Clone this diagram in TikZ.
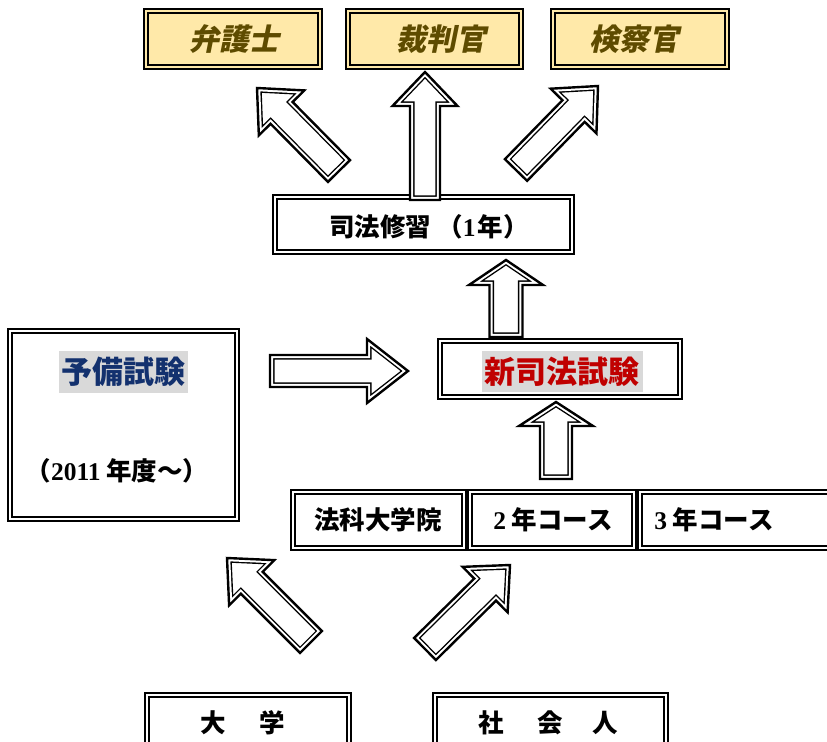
\documentclass[tikz,border=0pt]{standalone}
\usepackage{fontspec}
\setmainfont{Liberation Serif}
\newfontfamily\jp{Noto Sans CJK JP}
\newfontfamily\jpit[FakeSlant=0.2]{Noto Sans CJK JP}
\usetikzlibrary{calc}
\definecolor{goldfill}{HTML}{FFE9A9}
\definecolor{goldtext}{HTML}{5E4B00}
\definecolor{navytext}{HTML}{13316E}
\definecolor{redtext}{HTML}{C00000}
\definecolor{hilite}{HTML}{D9D9D9}
\tikzset{
  dbox/.style={draw, line width=2.4bp, fill=white, inner sep=0pt,
    path picture={\draw[line width=1.4bp]
      ([shift={(3.9bp,-3.9bp)}]path picture bounding box.north west) rectangle
      ([shift={(-3.9bp,3.9bp)}]path picture bounding box.south east);}},
  goldbox/.style={dbox, fill=goldfill},
  goldlabel/.style={inner sep=0pt, text=goldtext, font=\jpit\bfseries\fontsize{30bp}{32bp}\selectfont},
  plainlabel/.style={inner sep=0pt, font=\jp\bfseries\fontsize{25.5bp}{27bp}\selectfont},
  biglabel/.style={inner sep=0pt, fill=hilite, font=\jp\bfseries\fontsize{31bp}{33bp}\selectfont},
}
\newcommand{\blkarrow}[6]{%
  \coordinate (#1-H) at ($(#3)!#6!(#2)$);
  \coordinate (#1-a) at ($(#2)!#4!90:(#3)$);
  \coordinate (#1-b) at ($(#1-H)!#4!90:(#3)$);
  \coordinate (#1-c) at ($(#1-H)!#5!90:(#3)$);
  \coordinate (#1-d) at ($(#1-H)!#5!-90:(#3)$);
  \coordinate (#1-e) at ($(#1-H)!#4!-90:(#3)$);
  \coordinate (#1-f) at ($(#2)!#4!-90:(#3)$);
  \fill[white] (#1-a) -- (#1-b) -- (#1-c) -- (#3) -- (#1-d) -- (#1-e) -- (#1-f) -- cycle;
  \begin{scope}
    \clip (#1-a) -- (#1-b) -- (#1-c) -- (#3) -- (#1-d) -- (#1-e) -- (#1-f) -- cycle;
    \draw[line width=9.2bp, line join=miter] (#1-a) -- (#1-b) -- (#1-c) -- (#3) -- (#1-d) -- (#1-e) -- (#1-f) -- cycle;
    \draw[white, line width=6.4bp, line join=miter] (#1-a) -- (#1-b) -- (#1-c) -- (#3) -- (#1-d) -- (#1-e) -- (#1-f) -- cycle;
  \end{scope}
  \draw[line width=2.4bp, line join=miter] (#1-a) -- (#1-b) -- (#1-c) -- (#3) -- (#1-d) -- (#1-e) -- (#1-f) -- cycle;
}
\begin{document}
\begin{tikzpicture}[x=1bp, y=-1bp]
\useasboundingbox (0,0) rectangle (827,742);
\clip (0,0) rectangle (827,742);
\fill[white] (0,0) rectangle (827,742);

% boxes
\node[goldbox, minimum width=177.6bp, minimum height=59.6bp] (B1) at (233,39) {};
\node[goldbox, minimum width=176.6bp, minimum height=59.6bp] (B2) at (434.5,39) {};
\node[goldbox, minimum width=177.6bp, minimum height=59.6bp] (B3) at (640,39) {};
\node[dbox, minimum width=300.6bp, minimum height=58.6bp] (B4) at (423.5,224.5) {};
\node[dbox, minimum width=230.6bp, minimum height=191.6bp] (B5) at (123.5,425) {};
\node[dbox, minimum width=243.6bp, minimum height=59.6bp] (B6) at (560,369) {};
\node[dbox, minimum width=174.6bp, minimum height=59.6bp] (B7) at (378.5,520) {};
\node[dbox, minimum width=167.6bp, minimum height=59.6bp] (B8) at (552,520) {};
\node[dbox, minimum width=193.6bp, minimum height=59.6bp] (B9) at (735,520) {};
\node[dbox, minimum width=205.6bp, minimum height=59.6bp] (B10) at (248,723) {};
\node[dbox, minimum width=234.6bp, minimum height=59.6bp] (B11) at (550.5,723) {};

% labels
\node[goldlabel] (t1) at (234,39) {弁護士};
\node[goldlabel] (t2) at (441,39) {裁判官};
\node[goldlabel] (t3) at (634,39) {検察官};
\node[plainlabel] (t4) at (429,227) {司法修習\hspace{6bp}（{\rmfamily\bfseries 1}\hspace{2bp}年）};
\node[biglabel, text=navytext, minimum width=129bp, minimum height=42bp] (t5) at (123.5,372) {予備試験};
\node[plainlabel] (t6) at (117,471) {（{\rmfamily\bfseries 2011} 年度～）};
\node[biglabel, text=redtext, minimum width=161bp, minimum height=41bp] (t7) at (562,371.5) {新司法試験};
\node[plainlabel] (t8) at (378,520) {法科大学院};
\node[plainlabel] (t9) at (553,520) {{\rmfamily\bfseries 2} 年コース};
\node[plainlabel] (t10) at (714,520) {{\rmfamily\bfseries 3} 年コース};
\node[plainlabel] (t11) at (242.5,723) {大\hspace{34bp}学};
\node[plainlabel] (t12) at (548.5,723) {社\hspace{33bp}会\hspace{30bp}人};

% arrow end points
\coordinate (a1s) at (339,171); \coordinate (a1e) at (257,88);
\coordinate (a2s) at ($(B4.north -| 425,0)+(0,-6bp)$); \coordinate (a2e) at ($(B2.south -| 425,0)+(0,-2bp)$);
\coordinate (a3s) at (516,170); \coordinate (a3e) at (598,86);
\coordinate (a4s) at (270,371); \coordinate (a4e) at (408,371);
\coordinate (a5s) at ($(B6.north -| 506,0)+(0,1bp)$); \coordinate (a5e) at ($(B4.south -| 506,0)+(0,-5bp)$);
\coordinate (a6s) at ($(B8.north -| 556,0)+(0,10bp)$); \coordinate (a6e) at ($(B6.south -| 556,0)+(0,-2bp)$);
\coordinate (a7s) at (311,642); \coordinate (a7e) at (227,558);
\coordinate (a8s) at (425,649); \coordinate (a8e) at (510,565);

\blkarrow{A1}{a1s}{a1e}{15.5bp}{32bp}{35bp}
\blkarrow{A2}{a2s}{a2e}{15bp}{32.5bp}{34bp}
\blkarrow{A3}{a3s}{a3e}{15.5bp}{32bp}{35bp}
\blkarrow{A4}{a4s}{a4e}{16bp}{32bp}{41bp}
\blkarrow{A5}{a5s}{a5e}{16.5bp}{37bp}{25bp}
\blkarrow{A6}{a6s}{a6e}{16bp}{37bp}{24bp}
\blkarrow{A7}{a7s}{a7e}{15.5bp}{32bp}{35bp}
\blkarrow{A8}{a8s}{a8e}{15.5bp}{32bp}{35bp}
\end{tikzpicture}
\end{document}
